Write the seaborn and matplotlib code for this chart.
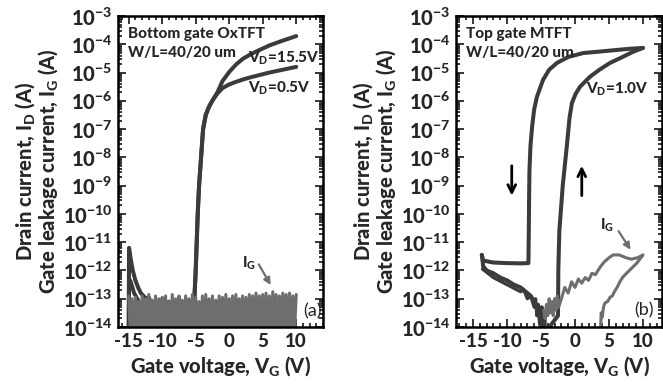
import numpy as np
import pandas as pd
import matplotlib
matplotlib.use("Agg")
import matplotlib.pyplot as plt
from matplotlib import font_manager as fm
from matplotlib.ticker import MultipleLocator, LogLocator, NullFormatter
import seaborn as sns

# ---------------- data (log10 of current, A) ----------------
x_ticks = [-15, -10, -5, 0, 5, 10]
x_ticklabels = ["-15", "-10", "-5", "0", "5", "10"]
y_decades = [-14, -13, -12, -11, -10, -9, -8, -7, -6, -5, -4, -3]

# Panel (a): bottom gate OxTFT
a_vd155_vg = [-15.0, -14.95, -14.7, -14.4, -14.0, -13.6, -13.2, -12.8, -12.4, -12.0, -11.5, -11.0,
              -10.5, -10.0, -9.5, -9.0, -8.5, -8.0, -7.5, -7.0, -6.5, -6.0, -5.7, -5.4,
              -5.0, -4.7, -4.5, -4.2, -3.9, -3.5, -3.0, -2.4, -1.8,
              -1.0, 0.0, 1.0, 2.0, 3.0, 4.0, 6.0, 8.0, 10.0]
a_vd155_log = [-14.3, -11.2, -11.6, -12.0, -12.35, -12.6, -12.8, -12.9, -13.0, -12.95, -13.3, -13.1,
               -13.5, -13.2, -13.6, -13.1, -13.5, -13.2, -13.6, -13.3, -13.7, -13.2, -13.8, -14.0,
               -12.0, -10.0, -9.0, -8.0, -7.0, -6.5, -6.2, -5.95, -5.72,
               -5.3, -4.98, -4.72, -4.52, -4.38, -4.26, -4.04, -3.87, -3.71]
a_vd05_vg = [-15.0, -14.95, -14.7, -14.2, -13.5, -13.0, -12.5, -12.0, -11.0, -10.0, -9.0, -8.0,
             -7.0, -6.0, -5.4, -5.0, -4.7, -4.5, -4.2, -3.9, -3.5, -3.0, -2.4, -1.8,
             -1.0, 0.0, 1.0, 2.0, 3.0, 4.0, 6.0, 8.0, 10.0]
a_vd05_log = [-14.3, -12.3, -12.4, -12.8, -13.1, -13.3, -13.6, -13.2, -13.7, -13.3, -13.8, -13.4,
              -13.8, -13.5, -14.0, -12.0, -10.0, -9.0, -8.0, -7.0, -6.5, -6.2, -5.95, -5.75,
              -5.55, -5.42, -5.33, -5.25, -5.18, -5.12, -5.0, -4.9, -4.8]
a_ig_log = [-12.9, -14.3, -13.0, -14.2, -12.95, -14.4, -13.1, -14.1, -12.9, -14.3, -13.0, -14.2,
            -12.85, -14.4, -13.05, -14.2, -12.9, -14.3, -13.0, -14.1, -12.95, -14.4, -12.9, -14.2,
            -13.1, -14.3, -12.85, -14.2, -13.0, -14.4, -12.9, -14.1, -13.05, -14.3, -12.9, -14.2,
            -13.0, -14.4, -12.85, -14.2, -12.95, -14.3, -13.1, -14.1, -12.9, -14.3, -12.85, -14.2,
            -13.0, -14.4, -12.9, -14.2, -13.05, -14.3, -12.9, -14.1, -12.95, -14.4, -12.85, -14.2,
            -13.0, -14.3, -12.9, -14.2, -12.85, -14.4, -13.0, -14.1, -12.9, -14.3, -12.95, -14.2,
            -12.85, -14.4, -12.9, -14.3, -12.8, -14.2, -12.9, -14.1, -12.85, -14.3, -12.8, -14.2,
            -12.9, -14.4, -12.75, -14.2, -12.85, -14.3, -12.9, -14.1, -12.8, -14.2, -12.85, -14.4,
            -12.8, -14.3, -12.9, -14.2, -12.85]

# Panel (b): top gate MTFT, hysteresis loop
b_fwd_vg = [-13.7, -13.5, -13.0, -12.0, -11.0, -10.0, -9.0, -8.0, -7.0, -6.5, -6.0, -5.5, -5.2,
            -5.0, -4.9, -4.7, -4.5, -4.4,
            -2.5, -2.45, -2.3, -1.8, -1.2, -0.8, -0.45, 0.1, 0.75, 2.2, 3.6, 5.15, 7.0, 8.5, 10.0]
b_fwd_log = [-11.45, -11.85, -12.0, -12.1, -12.25, -12.35, -12.5, -12.6, -12.8, -12.9, -13.1, -13.3, -13.6,
             -14.1, -13.3, -14.3, -13.6, -14.2,
             -13.6, -12.0, -10.6, -9.0, -7.6, -6.6, -6.08, -5.75, -5.5, -5.15, -4.9, -4.66, -4.45, -4.27, -4.13]
b_low_vg = [-13.6, -12.0, -10.0, -8.0, -7.5, -7.0, -6.5, -6.0, -5.8, -5.6, -5.4, -5.2, -5.0, -4.8]
b_low_log = [-11.95, -12.25, -12.5, -12.75, -12.7, -13.0, -12.9, -13.3, -13.0, -13.6, -13.2, -13.9, -13.4, -14.3]
b_bwd_vg = [10.0, 8.0, 6.2, 4.0, 1.2, -1.0, -2.65, -3.8, -4.7, -5.6, -6.0, -6.3, -6.55, -6.7,
            -6.75, -6.8, -6.85, -8.0, -10.0, -12.0, -13.5, -13.7]
b_bwd_log = [-4.13, -4.16, -4.2, -4.25, -4.31, -4.45, -4.66, -4.9, -5.26, -5.86, -6.3, -6.9, -7.6, -8.5,
             -9.5, -10.8, -11.74, -11.75, -11.74, -11.72, -11.65, -11.45]
b_ig_vg = [-4.6, -4.4, -4.2, -4.0, -3.8, -3.6, -3.4, -3.2, -3.0, -2.8, -2.6, -2.4, -2.0, -1.5, -1.0,
           -0.5, 0.0, 0.5, 1.0, 1.5, 2.0, 2.5, 3.0, 3.7, 4.3, 5.0, 5.6, 6.5, 7.5, 8.3, 9.2, 10.0,
           9.1, 8.0, 7.05, 6.6, 6.2, 5.8, 5.5, 5.15, 4.8, 4.4, 4.2, 4.0, 3.85, 3.7]
b_ig_log = [-13.4, -13.7, -13.2, -13.6, -13.0, -13.5, -13.1, -13.6, -13.0, -13.4, -12.9, -13.3, -13.0,
            -12.6, -12.8, -12.4, -12.6, -12.3, -12.45, -12.25, -12.35, -12.1, -12.15, -11.88, -11.7,
            -11.55, -11.45, -11.45, -11.55, -11.6, -11.55, -11.45,
            -11.74, -12.0, -12.23, -12.4, -12.6, -12.75, -12.9, -12.95, -13.1, -13.15, -13.3, -13.65,
            -13.5, -14.6]

dark = "#3b3b3b"
grey = "#6e6e6e"

# ---------------- style ----------------
sns.set_theme(style="ticks")
blk = fm.findfont(fm.FontProperties(family="Lato", weight="black"), fallback_to_default=False)
heavy = "black" if ("Black" in blk or "Heavy" in blk) else "bold"
plt.rcParams["font.family"] = ["Lato", "DejaVu Sans"]
plt.rcParams["font.weight"] = heavy
plt.rcParams["axes.labelweight"] = heavy
plt.rcParams["mathtext.fontset"] = "custom"
plt.rcParams["mathtext.rm"] = "Lato:" + heavy
plt.rcParams["mathtext.bf"] = "Lato:" + heavy
plt.rcParams["mathtext.it"] = "Lato:" + heavy
plt.rcParams["mathtext.default"] = "bf"
plt.rcParams["axes.unicode_minus"] = False

fig = plt.figure(figsize=(6.63, 3.88), dpi=100)
H = 388.0
W = 663.0
ax1 = fig.add_axes([118 / W, 1 - 327 / H, 205 / W, 311 / H])
ax2 = fig.add_axes([456 / W, 1 - 327 / H, 206 / W, 311 / H])


def series(vg, lg):
    return pd.DataFrame({"vg": vg, "i": [10.0 ** v for v in lg]})


lw = 2.9
sns.lineplot(data=series(a_vd05_vg, a_vd05_log), x="vg", y="i", sort=False, estimator=None,
             color=dark, lw=lw, ax=ax1)
sns.lineplot(data=series(a_vd155_vg, a_vd155_log), x="vg", y="i", sort=False, estimator=None,
             color=dark, lw=lw, ax=ax1)
a_ig_vg = list(np.linspace(-15, 10, len(a_ig_log)))
sns.lineplot(data=series(a_ig_vg, a_ig_log), x="vg", y="i", sort=False, estimator=None,
             color=grey, lw=2.2, ax=ax1)

sns.lineplot(data=series(b_low_vg, b_low_log), x="vg", y="i", sort=False, estimator=None,
             color=dark, lw=2.4, ax=ax2)
sns.lineplot(data=series(b_fwd_vg, b_fwd_log), x="vg", y="i", sort=False, estimator=None,
             color=dark, lw=lw, ax=ax2)
sns.lineplot(data=series(b_bwd_vg, b_bwd_log), x="vg", y="i", sort=False, estimator=None,
             color=dark, lw=lw, ax=ax2)
sns.lineplot(data=series(b_ig_vg, b_ig_log), x="vg", y="i", sort=False, estimator=None,
             color=grey, lw=2.2, ax=ax2)

y_ticks = [10.0 ** d for d in y_decades]
y_ticklabels = [r"$\mathbf{10^{%d}}$" % d for d in y_decades]
for ax, xl in ((ax1, (-16.6, 14.0)), (ax2, (-17.5, 12.8))):
    ax.set_yscale("log")
    ax.set_ylim(1e-14, 1e-3)
    ax.set_xlim(*xl)
    ax.set_xticks(x_ticks, x_ticklabels, fontweight=heavy, fontsize=13.5)
    ax.xaxis.set_minor_locator(MultipleLocator(1))
    ax.set_yticks(y_ticks, y_ticklabels, fontsize=14.5)
    ax.yaxis.set_minor_locator(LogLocator(base=10, subs=np.arange(2, 10), numticks=20))
    ax.yaxis.set_minor_formatter(NullFormatter())
    ax.tick_params(which="both", direction="in", top=True, right=True, width=1.3)
    ax.tick_params(which="major", length=6, pad=4)
    ax.tick_params(which="minor", length=3)
    for s in ax.spines.values():
        s.set_linewidth(1.8)
        s.set_color("black")
    ax.set_xlabel(r"Gate voltage, V$_\mathbf{G}$ (V)", fontsize=14.5, labelpad=3)
    ax.set_ylabel("Drain current, I$_\\mathbf{D}$ (A)\nGate leakage current, I$_\\mathbf{G}$ (A)",
                  fontsize=14.5, labelpad=2, linespacing=0.95)

# annotations panel (a)
tk = dict(fontsize=11, fontweight=heavy, va="center")
ax1.text(-15.1, 10 ** -3.64, "Bottom gate OxTFT", ha="left", **tk)
ax1.text(-15.1, 10 ** -4.3, "W/L=40/20 um", ha="left", **tk)
ax1.text(13.5, 10 ** -4.5, r"V$_\mathbf{D}$=15.5V", ha="right", **tk)
ax1.text(12.2, 10 ** -5.55, r"V$_\mathbf{D}$=0.5V", ha="right", **tk)
ax1.text(1.9, 10 ** -11.74, r"I$_\mathbf{G}$", ha="left", **tk)
ax1.annotate("", xy=(6.4, 10 ** -12.6), xytext=(4.2, 10 ** -11.7),
             arrowprops=dict(arrowstyle="-|>", color=grey, lw=1.6, mutation_scale=10))
ax1.text(13.8, 10 ** -13.45, "(a)", fontsize=13, fontweight="normal", ha="right", va="center")

# annotations panel (b)
ax2.text(-16.0, 10 ** -3.64, "Top gate MTFT", ha="left", **tk)
ax2.text(-16.0, 10 ** -4.3, "W/L=40/20 um", ha="left", **tk)
ax2.text(10.8, 10 ** -5.6, r"V$_\mathbf{D}$=1.0V", ha="right", **tk)
ax2.text(3.7, 10 ** -10.4, r"I$_\mathbf{G}$", ha="left", **tk)
ax2.annotate("", xy=(8.4, 10 ** -11.35), xytext=(6.2, 10 ** -10.53),
             arrowprops=dict(arrowstyle="-|>", color=grey, lw=1.6, mutation_scale=10))
ax2.text(11.6, 10 ** -13.4, "(b)", fontsize=13, fontweight="normal", ha="right", va="center")
ax2.annotate("", xy=(-9.3, 10 ** -9.45), xytext=(-9.3, 10 ** -8.2),
             arrowprops=dict(arrowstyle="->", color="black", lw=2.0, mutation_scale=14))
ax2.annotate("", xy=(1.0, 10 ** -8.2), xytext=(1.0, 10 ** -9.45),
             arrowprops=dict(arrowstyle="->", color="black", lw=2.0, mutation_scale=14))

fig.savefig("out.png", dpi=100)
